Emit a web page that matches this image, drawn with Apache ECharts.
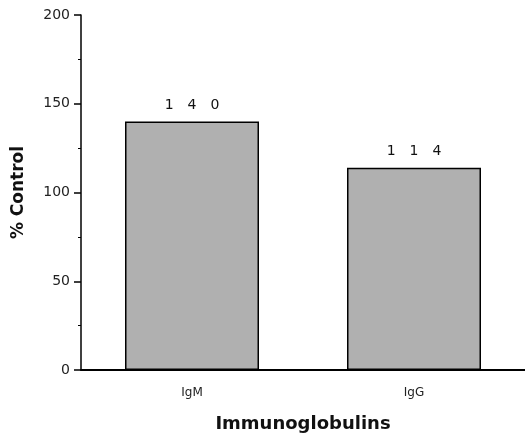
<!DOCTYPE html>
<html><head><meta charset="utf-8">
<script src="https://cdn.jsdelivr.net/npm/echarts@6/dist/echarts.min.js"></script>
<style>html,body{margin:0;padding:0;background:#fff}#c{width:525px;height:436px}</style>
</head><body><div id="c"></div>
<script>
const categories = ['IgM', 'IgG'];
const values = [140, 114];
const yTicks = [0, 50, 100, 150, 200];

const chart = echarts.init(document.getElementById('c'));
chart.setOption({
  animation: false,
  backgroundColor: '#fff',
  grid: { left: 81, right: 0, top: 15, bottom: 66, containLabel: false, outerBoundsMode: 'none' },
  xAxis: {
    type: 'category',
    data: categories,
    name: 'Immunoglobulins',
    nameLocation: 'middle',
    nameGap: 45,
    nameTextStyle: { fontFamily: 'DejaVu Sans', fontWeight: 'bold', fontSize: 18, color: '#111' },
    axisLine: { lineStyle: { color: '#000', width: 2 } },
    axisTick: { show: false },
    axisLabel: { fontFamily: 'DejaVu Sans', fontSize: 12, color: '#222', margin: 17 }
  },
  yAxis: {
    type: 'value',
    min: yTicks[0], max: yTicks[yTicks.length - 1], interval: 50,
    name: '% Control',
    nameLocation: 'middle',
    nameGap: 54,
    nameTextStyle: { fontFamily: 'DejaVu Sans', fontWeight: 'bold', fontSize: 17, color: '#111' },
    axisLine: { show: true, lineStyle: { color: '#000', width: 1.5 } },
    axisTick: { show: true, length: 7, lineStyle: { color: '#000', width: 1.5 } },
    minorTick: { show: true, splitNumber: 2, length: 3, lineStyle: { color: '#000', width: 1 } },
    splitLine: { show: false },
    axisLabel: { fontFamily: 'DejaVu Sans', fontSize: 14, color: '#222', margin: 11 }
  },
  series: [{
    type: 'bar',
    data: values,
    barWidth: 134,
    itemStyle: { color: '#b0b0b0', borderColor: '#000', borderWidth: 1.5 },
    label: {
      show: true, position: 'top', distance: 9,
      fontFamily: 'DejaVu Sans', fontSize: 14, color: '#111',
      formatter: p => String(p.value).split('').join('\u2003')
    }
  }]
});
</script></body></html>
